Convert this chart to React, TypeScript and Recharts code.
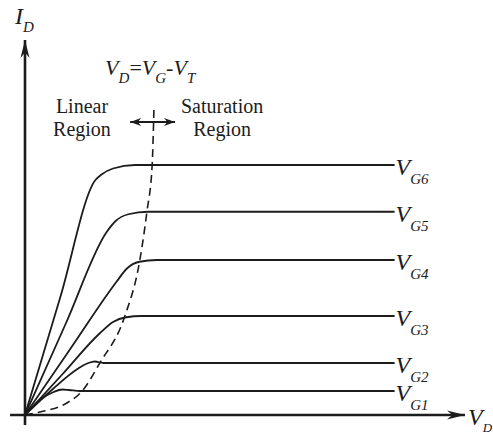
import { LineChart, Line, XAxis, YAxis, ReferenceLine, ReferenceDot } from 'recharts'

// Drain characteristics, V_D (x) vs I_D (y), arbitrary units
const vg6 = [
  { vd: 0, id: 0 }, { vd: 8, id: 47 }, { vd: 16, id: 94 }, { vd: 17.4, id: 96.2 },
  { vd: 20, id: 98.6 }, { vd: 25, id: 100 }, { vd: 84, id: 100 },
]
const vg5 = [
  { vd: 0, id: 0 }, { vd: 9.3, id: 36.7 }, { vd: 18.6, id: 73.3 }, { vd: 20.6, id: 77.6 },
  { vd: 23.5, id: 80.3 }, { vd: 28, id: 81.3 }, { vd: 84, id: 81.3 },
]
const vg4 = [
  { vd: 0, id: 0 }, { vd: 10.4, id: 26.7 }, { vd: 20.8, id: 53.3 }, { vd: 23.1, id: 58.5 },
  { vd: 26, id: 61.3 }, { vd: 30, id: 62 }, { vd: 84, id: 62 },
]
const vg3 = [
  { vd: 0, id: 0 }, { vd: 8.5, id: 16.3 }, { vd: 17, id: 32.7 }, { vd: 20, id: 37.2 },
  { vd: 23, id: 39.1 }, { vd: 26.5, id: 39.6 }, { vd: 84, id: 39.6 },
]
const vg2 = [
  { vd: 0, id: 0 }, { vd: 6.4, id: 10.5 }, { vd: 12, id: 18.5 }, { vd: 14.4, id: 20.8 },
  { vd: 15.9, id: 21.4 }, { vd: 17.8, id: 20.8 }, { vd: 84, id: 20.8 },
]
const vg1 = [
  { vd: 0, id: 0 }, { vd: 3.4, id: 6 }, { vd: 6.5, id: 9.2 }, { vd: 8.5, id: 10.2 },
  { vd: 10, id: 10 }, { vd: 12.5, id: 9.6 }, { vd: 84, id: 9.6 },
]
// V_D = V_G - V_T boundary
const boundary = [
  { vd: 0, id: 0 }, { vd: 3.4, id: 1.2 }, { vd: 9.5, id: 4.8 }, { vd: 13, id: 9.6 },
  { vd: 17, id: 20.8 }, { vd: 22.7, id: 39.6 }, { vd: 26.1, id: 62 }, { vd: 27.7, id: 81.2 },
  { vd: 28.9, id: 100 }, { vd: 29.3, id: 122 },
]

const curves = [
  { sub: 'G6', data: vg6 },
  { sub: 'G5', data: vg5 },
  { sub: 'G4', data: vg4 },
  { sub: 'G3', data: vg3 },
  { sub: 'G2', data: vg2 },
  { sub: 'G1', data: vg1 },
]

const INK = '#1c1c1c'
const SERIF = { fontFamily: "'Liberation Serif', 'DejaVu Serif', serif" }

type ArrowProps = { x1?: number; y1?: number; x2?: number; y2?: number; len: number; half: number; both?: boolean; width: number }

const ArrowShape = ({ x1 = 0, y1 = 0, x2 = 0, y2 = 0, len, half, both, width }: ArrowProps) => {
  const ang = Math.atan2(y2 - y1, x2 - x1)
  const head = (tx: number, ty: number, a: number) => {
    const bx = tx - len * Math.cos(a)
    const by = ty - len * Math.sin(a)
    const nx = -Math.sin(a) * half
    const ny = Math.cos(a) * half
    const ix = tx - len * 0.7 * Math.cos(a)
    const iy = ty - len * 0.7 * Math.sin(a)
    return `M${tx},${ty} L${bx + nx},${by + ny} L${ix},${iy} L${bx - nx},${by - ny} Z`
  }
  return (
    <g>
      <line x1={x1} y1={y1} x2={x2} y2={y2} stroke={INK} strokeWidth={width} />
      <path d={head(x2, y2, ang)} fill={INK} />
      {both && <path d={head(x1, y1, ang + Math.PI)} fill={INK} />}
    </g>
  )
}

type SubProps = { cx?: number; cy?: number; main: string; sub: string; size: number; subSize: number; dx: number; dy: number; subDy: number }

const SubLabel = ({ cx = 0, cy = 0, main, sub, size, subSize, dx, dy, subDy }: SubProps) => (
  <text x={cx + dx} y={cy + dy} style={SERIF} fontStyle="italic" fontSize={size} fill={INK}>
    {main}
    <tspan fontSize={subSize} dy={subDy}>{sub}</tspan>
  </text>
)

const TwoLines = ({ cx = 0, cy = 0, lines }: { cx?: number; cy?: number; lines: string[] }) => (
  <text x={cx} y={cy} style={SERIF} fontSize={20} fill={INK} textAnchor="middle">
    {lines.map((t, i) => (
      <tspan key={t + i} x={cx} dy={i === 0 ? 0 : 23}>{t}</tspan>
    ))}
  </text>
)

const Formula = ({ cx = 0, cy = 0 }: { cx?: number; cy?: number }) => (
  <text x={cx} y={cy} style={SERIF} fontSize={22} fill={INK} fontStyle="italic">
    V<tspan fontSize={15} dy={8}>D</tspan>
    <tspan dy={-8} fontStyle="normal">=</tspan>
    V<tspan fontSize={15} dy={8}>G</tspan>
    <tspan dy={-8} fontStyle="normal">-</tspan>
    V<tspan fontSize={15} dy={8}>T</tspan>
  </text>
)

export default function App() {
  return (
    <div style={{ position: 'absolute', left: 0, top: 0, width: 493, height: 435, background: '#fff' }}>
      <LineChart width={493} height={435} margin={{ top: 40, right: 28, bottom: 20, left: 25 }}>
        <XAxis type="number" dataKey="vd" domain={[0, 100]} hide allowDataOverflow />
        <YAxis type="number" dataKey="id" domain={[0, 150]} hide allowDataOverflow />

        {/* axes with arrowheads */}
        <ReferenceLine
          segment={[{ x: -3.4, y: 0 }, { x: 100, y: 0 }]}
          ifOverflow="visible"
          shape={(p: any) => <ArrowShape {...p} len={18} half={4.5} width={2.6} />}
        />
        <ReferenceLine
          segment={[{ x: 0, y: -4 }, { x: 0, y: 150 }]}
          ifOverflow="visible"
          shape={(p: any) => <ArrowShape {...p} len={18} half={4.5} width={2.6} />}
        />

        {curves.map((c) => (
          <Line
            key={c.sub}
            data={c.data}
            dataKey="id"
            type="monotone"
            stroke={INK}
            strokeWidth={1.8}
            dot={false}
            activeDot={false}
            isAnimationActive={false}
          />
        ))}
        <Line
          data={boundary}
          dataKey="id"
          type="monotone"
          stroke={INK}
          strokeWidth={1.6}
          strokeDasharray="8 5"
          dot={false}
          activeDot={false}
          isAnimationActive={false}
        />

        {/* region divider arrow */}
        <ReferenceLine
          segment={[{ x: 23.9, y: 117.2 }, { x: 34.1, y: 117.2 }]}
          ifOverflow="visible"
          shape={(p: any) => <ArrowShape {...p} len={11} half={4} width={1.8} both />}
        />

        {curves.map((c) => (
          <ReferenceDot
            key={'l' + c.sub}
            x={84}
            y={c.data[c.data.length - 1].id}
            r={0}
            ifOverflow="visible"
            shape={(p: any) => (
              <SubLabel cx={p.cx} cy={p.cy} main="V" sub={c.sub} size={24} subSize={15} dx={1} dy={10} subDy={9} />
            )}
          />
        ))}

        <ReferenceDot
          x={100} y={0} r={0} ifOverflow="visible"
          shape={(p: any) => <SubLabel cx={p.cx} cy={p.cy} main="V" sub="D" size={24} subSize={13} dx={3} dy={10} subDy={7} />}
        />
        <ReferenceDot
          x={0} y={150} r={0} ifOverflow="visible"
          shape={(p: any) => <SubLabel cx={p.cx} cy={p.cy} main="I" sub="D" size={24} subSize={15} dx={-10} dy={-16} subDy={8} />}
        />
        <ReferenceDot
          x={18.2} y={136} r={0} ifOverflow="visible"
          shape={(p: any) => <Formula cx={p.cx} cy={p.cy} />}
        />
        <ReferenceDot
          x={12.95} y={120.8} r={0} ifOverflow="visible"
          shape={(p: any) => <TwoLines cx={p.cx} cy={p.cy} lines={['Linear', 'Region']} />}
        />
        <ReferenceDot
          x={44.8} y={120.8} r={0} ifOverflow="visible"
          shape={(p: any) => <TwoLines cx={p.cx} cy={p.cy} lines={['Saturation', 'Region']} />}
        />
      </LineChart>
    </div>
  )
}
